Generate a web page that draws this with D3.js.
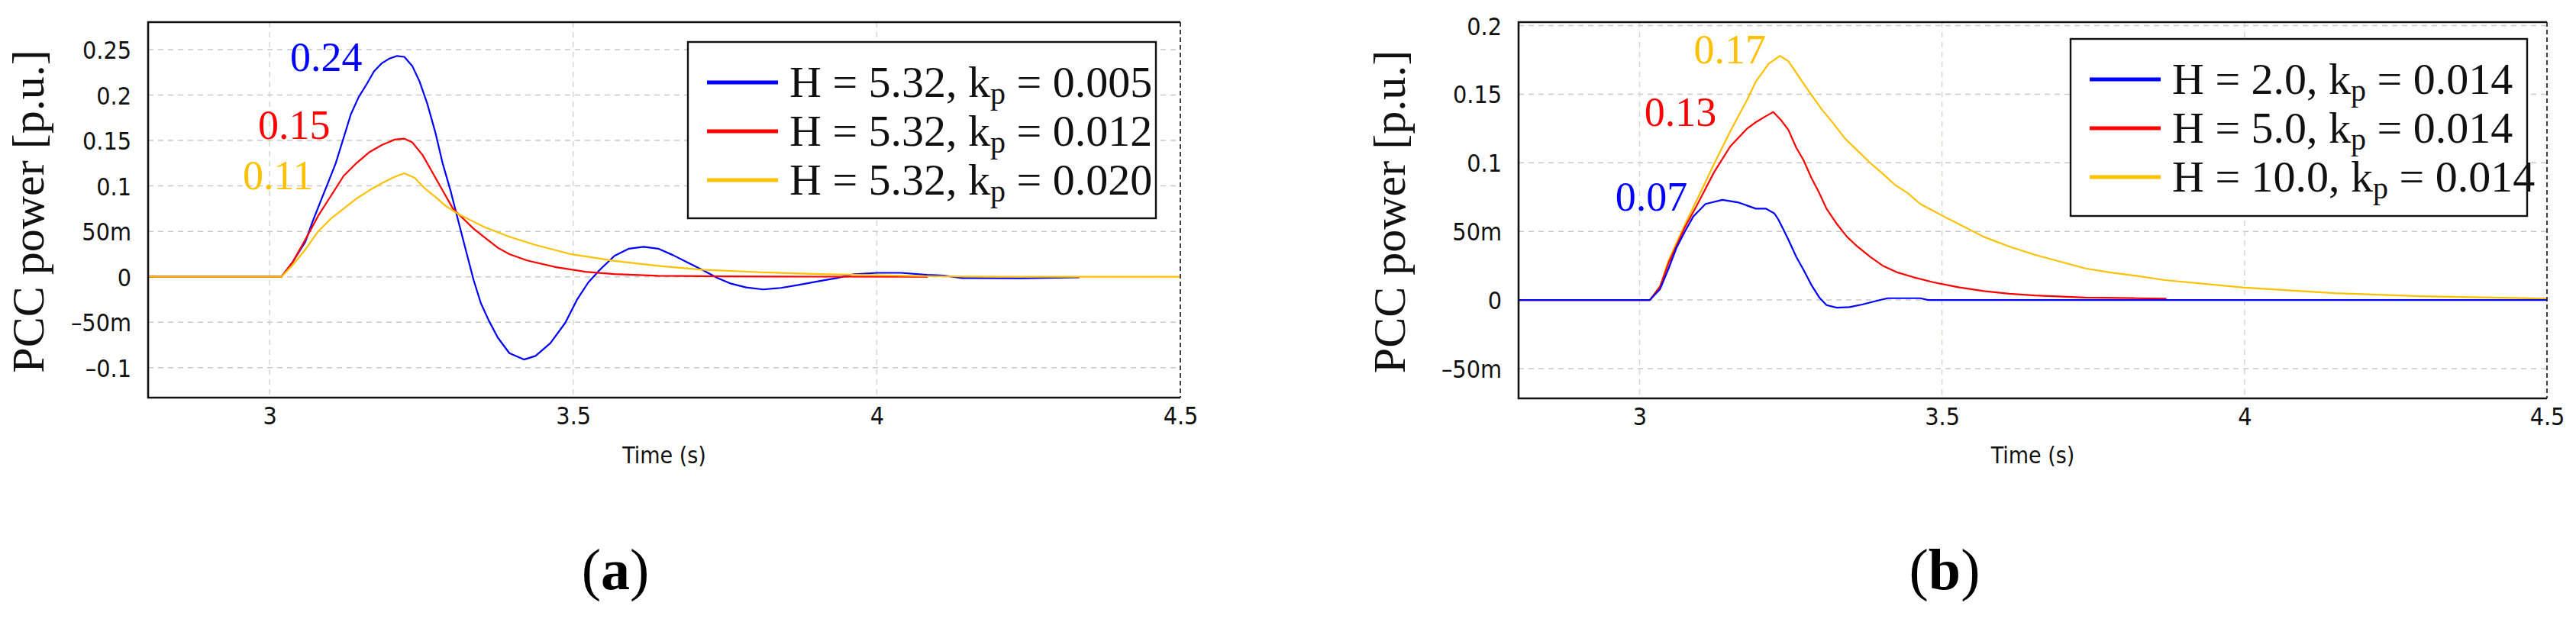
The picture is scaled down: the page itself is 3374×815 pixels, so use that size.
<!DOCTYPE html>
<html>
<head>
<meta charset="utf-8">
<script src="https://cdn.jsdelivr.net/npm/d3@7"></script>
<style>
  body { margin: 0; background: #fff; }
  .tick-lab { font-family: "DejaVu Sans Condensed", "DejaVu Sans"; font-stretch: condensed; font-size: 32px; fill: #111; }
  .serif { font-family: "Liberation Serif", "Times New Roman", serif; }
</style>
</head>
<body>
<div id="chart"></div>
<script>
// ---- panel (a): H = 5.32, varying kp ----
var timeA_k005 = [2.8, 3.0195, 3.038, 3.059, 3.071, 3.084, 3.096, 3.109, 3.122, 3.134, 3.147, 3.16, 3.172, 3.185, 3.197, 3.21, 3.222, 3.235, 3.247, 3.26, 3.273, 3.285, 3.298, 3.311, 3.323, 3.336, 3.348, 3.361, 3.376, 3.395, 3.419, 3.438, 3.4625, 3.487, 3.506, 3.525, 3.544, 3.568, 3.592, 3.616, 3.64, 3.664, 3.688, 3.7125, 3.737, 3.76, 3.785, 3.813, 3.842, 3.871, 3.905, 3.934, 3.9625, 4.001, 4.04, 4.083, 4.111, 4.141, 4.238, 4.334];
var powerA_k005 = [0, 0, 0.0162, 0.0386, 0.061, 0.083, 0.103, 0.125, 0.153, 0.179, 0.198, 0.212, 0.226, 0.235, 0.240, 0.243, 0.242, 0.232, 0.215, 0.190, 0.159, 0.125, 0.095, 0.061, 0.030, -0.0034, -0.029, -0.048, -0.067, -0.084, -0.091, -0.087, -0.073, -0.0506, -0.0256, -0.0061, 0.0078, 0.023, 0.031, 0.033, 0.031, 0.024, 0.016, 0.0078, -0.0011, -0.0075, -0.0117, -0.0139, -0.0122, -0.0089, -0.0047, -0.0014, 0.0028, 0.0044, 0.0044, 0.0022, 0.0014, -0.0014, -0.0016, -0.0006];

var timeA_k012 = [2.8, 3.0195, 3.038, 3.059, 3.08, 3.101, 3.122, 3.143, 3.164, 3.185, 3.206, 3.222, 3.235, 3.252, 3.269, 3.285, 3.302, 3.319, 3.336, 3.353, 3.376, 3.395, 3.424, 3.472, 3.52, 3.568, 3.64, 3.75, 3.9, 4.084];
var powerA_k012 = [0, 0, 0.016, 0.041, 0.067, 0.089, 0.111, 0.125, 0.137, 0.145, 0.151, 0.152, 0.148, 0.134, 0.114, 0.095, 0.075, 0.064, 0.053, 0.044, 0.032, 0.025, 0.018, 0.0106, 0.0056, 0.003, 0.0012, 0.0005, 0.0002, 0];

var timeA_k020 = [2.8, 3.0195, 3.038, 3.059, 3.08, 3.101, 3.122, 3.143, 3.164, 3.185, 3.206, 3.222, 3.239, 3.256, 3.273, 3.29, 3.311, 3.332, 3.353, 3.395, 3.438, 3.496, 3.568, 3.64, 3.7125, 3.809, 3.905, 4.001, 4.097, 4.2, 4.5];
var powerA_k020 = [0, 0, 0.013, 0.030, 0.050, 0.064, 0.075, 0.086, 0.095, 0.103, 0.110, 0.114, 0.109, 0.097, 0.088, 0.078, 0.069, 0.062, 0.055, 0.044, 0.035, 0.025, 0.0175, 0.012, 0.0078, 0.005, 0.003, 0.0017, 0.0006, 0, 0];

// ---- panel (b): kp = 0.014, varying H ----
var timeB_H2 = [2.8, 3.017, 3.034, 3.048, 3.061, 3.075, 3.089, 3.109, 3.137, 3.164, 3.192, 3.209, 3.223, 3.229, 3.237, 3.246, 3.259, 3.271, 3.284, 3.297, 3.309, 3.326, 3.347, 3.368, 3.389, 3.41, 3.464, 3.477, 4.5];
var powerB_H2 = [0, 0, 0.008, 0.023, 0.038, 0.050, 0.061, 0.070, 0.073, 0.071, 0.0666, 0.0666, 0.063, 0.059, 0.052, 0.044, 0.0315, 0.022, 0.011, 0.0019, -0.0037, -0.0056, -0.0052, -0.0033, -0.0009, 0.0013, 0.0013, 0, 0];

var timeB_H5 = [2.8, 3.017, 3.034, 3.048, 3.075, 3.096, 3.123, 3.15, 3.178, 3.192, 3.209, 3.221, 3.234, 3.246, 3.259, 3.271, 3.284, 3.297, 3.309, 3.326, 3.343, 3.36, 3.381, 3.402, 3.427, 3.452, 3.485, 3.527, 3.569, 3.611, 3.653, 3.737, 3.821, 3.871];
var powerB_H5 = [0, 0, 0.010, 0.027, 0.053, 0.070, 0.093, 0.112, 0.125, 0.1295, 0.134, 0.137, 0.131, 0.124, 0.111, 0.102, 0.089, 0.078, 0.0666, 0.0555, 0.046, 0.039, 0.0315, 0.025, 0.020, 0.0167, 0.013, 0.0093, 0.0065, 0.0046, 0.0033, 0.0018, 0.0013, 0.001];

var timeB_H10 = [2.8, 3.017, 3.034, 3.048, 3.075, 3.096, 3.123, 3.15, 3.178, 3.192, 3.213, 3.232, 3.246, 3.263, 3.28, 3.301, 3.318, 3.339, 3.36, 3.381, 3.402, 3.422, 3.443, 3.464, 3.498, 3.527, 3.569, 3.611, 3.653, 3.695, 3.737, 3.779, 3.821, 3.868, 4.0, 4.149, 4.29, 4.5];
var powerB_H10 = [0, 0, 0.010, 0.029, 0.055, 0.074, 0.099, 0.123, 0.146, 0.159, 0.172, 0.178, 0.174, 0.163, 0.152, 0.139, 0.130, 0.118, 0.109, 0.100, 0.092, 0.084, 0.078, 0.070, 0.062, 0.0555, 0.046, 0.039, 0.033, 0.028, 0.023, 0.020, 0.0176, 0.0145, 0.009, 0.005, 0.0028, 0.001];

// tick values
var xTicks = [3, 3.5, 4, 4.5];
var yTicksA = [0.25, 0.2, 0.15, 0.1, 0.05, 0, -0.05, -0.1];
var yTicksB = [0.2, 0.15, 0.1, 0.05, 0, -0.05];

// legend texts and peak annotations
var legendA = [["H = 5.32, k", "p", " = 0.005"], ["H = 5.32, k", "p", " = 0.012"], ["H = 5.32, k", "p", " = 0.020"]];
var legendB = [["H = 2.0, k", "p", " = 0.014"], ["H = 5.0, k", "p", " = 0.014"], ["H = 10.0, k", "p", " = 0.014"]];
var peakLabelsA = [{text: "0.24", t: 3.034, v: 0.2267}, {text: "0.15", t: 2.981, v: 0.152}, {text: "0.11", t: 2.956, v: 0.0963}];
var peakLabelsB = [{text: "0.07", t: 2.96, v: 0.0651}, {text: "0.13", t: 3.0078, v: 0.1268}, {text: "0.17", t: 3.0897, v: 0.1724}];

var colors = ["#0000ff", "#ff0000", "#ffc000"];

var svg = d3.select("#chart").append("svg")
  .attr("width", 3374)
  .attr("height", 815)
  .style("display", "block");

function fmtY(d) {
  if (d === 0) return "0";
  if (Math.abs(d) < 0.1) return (d < 0 ? "\u2013" : "") + Math.round(Math.abs(d) * 1000) + "m";
  return (d < 0 ? "\u2013" : "") + String(Math.abs(d));
}

function zip(ts, vs) { return ts.map(function(t, i) { return {t: t, v: vs[i]}; }); }

function drawPanel(opt) {
  var g = svg.append("g");
  var x = d3.scaleLinear().domain([2.8, 4.5]).range([opt.left, opt.right]);
  var y = d3.scaleLinear().domain(opt.yDomain).range([opt.bottom, opt.top]);

  // grid
  g.selectAll(".hgrid").data(opt.yTicks).enter().append("line")
    .attr("x1", opt.left).attr("x2", opt.right)
    .attr("y1", function(d) { return y(d); }).attr("y2", function(d) { return y(d); })
    .attr("stroke", "#c9c9c9").attr("stroke-width", 1.5).attr("stroke-dasharray", "7,6");
  g.selectAll(".vgrid").data(xTicks.slice(0, 3)).enter().append("line")
    .attr("x1", function(d) { return x(d); }).attr("x2", function(d) { return x(d); })
    .attr("y1", opt.top).attr("y2", opt.bottom)
    .attr("stroke", "#cfdccb").attr("stroke-width", 1.5).attr("stroke-dasharray", "7,6");

  // y axis labels
  var ya = d3.axisLeft(y).tickValues(opt.yTicks).tickSize(0).tickPadding(22).tickFormat(fmtY);
  var yg = g.append("g").attr("transform", "translate(" + opt.left + ",0)").call(ya);
  yg.select(".domain").remove();
  yg.selectAll("text").attr("class", "tick-lab").attr("fill", null).attr("dy", "0.36em");

  // x axis labels
  var xa = d3.axisBottom(x).tickValues(xTicks).tickSize(0).tickPadding(12).tickFormat(d3.format("~g"));
  var xg = g.append("g").attr("transform", "translate(0," + opt.bottom + ")").call(xa);
  xg.select(".domain").remove();
  xg.selectAll("text").attr("class", "tick-lab").attr("fill", null);

  // series
  var line = d3.line().x(function(d) { return x(d.t); }).y(function(d) { return y(d.v); });
  opt.series.forEach(function(s) {
    g.append("path").datum(zip(s.t, s.v))
      .attr("fill", "none").attr("stroke", s.color).attr("stroke-width", 2.2)
      .attr("stroke-linejoin", "round").attr("d", line);
  });

  // frame: solid left/top/bottom, dashed right
  g.append("path")
    .attr("d", "M" + opt.right + "," + opt.top + "H" + opt.left + "V" + opt.bottom + "H" + opt.right)
    .attr("fill", "none").attr("stroke", "#111").attr("stroke-width", 2.6);
  g.append("line")
    .attr("x1", opt.right).attr("x2", opt.right).attr("y1", opt.top).attr("y2", opt.bottom)
    .attr("stroke", "#111").attr("stroke-width", 1.6).attr("stroke-dasharray", "6,4");

  // peak annotations
  g.selectAll(".peak").data(opt.peaks).enter().append("text")
    .attr("class", "serif")
    .attr("x", function(d) { return x(d.t); })
    .attr("y", function(d) { return y(d.v); })
    .attr("font-size", 54)
    .attr("fill", function(d, i) { return opt.peakColors[i]; })
    .text(function(d) { return d.text; });

  // legend
  var lg = g.append("g");
  lg.append("rect")
    .attr("x", opt.legend.x).attr("y", opt.legend.y)
    .attr("width", opt.legend.w).attr("height", opt.legend.h)
    .attr("fill", "#fff").attr("stroke", "#111").attr("stroke-width", 2.4);
  opt.legendText.forEach(function(parts, i) {
    var cy = opt.legend.y + 53 + i * 64;
    lg.append("line")
      .attr("x1", opt.legend.x + 25).attr("x2", opt.legend.x + 118)
      .attr("y1", cy).attr("y2", cy)
      .attr("stroke", colors[i]).attr("stroke-width", 5);
    var t = lg.append("text").attr("class", "serif")
      .attr("x", opt.legend.x + 133).attr("y", cy + 19)
      .attr("font-size", 58).attr("fill", "#111");
    t.append("tspan").text(parts[0]);
    t.append("tspan").attr("font-size", 40).attr("dy", 9).text(parts[1]);
    t.append("tspan").attr("dy", -9).text(parts[2]);
  });

  // axis titles
  g.append("text").attr("class", "serif")
    .attr("transform", "translate(" + opt.yTitleX + "," + ((opt.top + opt.bottom) / 2 + 2) + ") rotate(-90)")
    .attr("text-anchor", "middle").attr("font-size", 60).attr("fill", "#111")
    .text("PCC power [p.u.]");
  g.append("text").attr("class", "tick-lab")
    .attr("x", (opt.left + opt.right) / 2).attr("y", 607)
    .attr("text-anchor", "middle").style("font-size", "30px")
    .text("Time (s)");

  // panel letter
  var pl = g.append("text").attr("class", "serif")
    .attr("x", opt.letterX).attr("y", 772)
    .attr("text-anchor", "middle").attr("font-size", 76).attr("fill", "#000");
  pl.append("tspan").text("(");
  pl.append("tspan").attr("font-weight", "bold").text(opt.letter);
  pl.append("tspan").text(")");
}

drawPanel({
  left: 194, right: 1546, top: 29, bottom: 521,
  yDomain: [-0.1329, 0.2802], yTicks: yTicksA,
  series: [
    {t: timeA_k005, v: powerA_k005, color: colors[0]},
    {t: timeA_k012, v: powerA_k012, color: colors[1]},
    {t: timeA_k020, v: powerA_k020, color: colors[2]}
  ],
  peaks: peakLabelsA, peakColors: [colors[0], colors[1], colors[2]],
  legend: {x: 901, y: 55, w: 613, h: 231}, legendText: legendA,
  yTitleX: 57, letter: "a", letterX: 806
});

drawPanel({
  left: 1989, right: 3336, top: 29, bottom: 522,
  yDomain: [-0.0717, 0.2025], yTicks: yTicksB,
  series: [
    {t: timeB_H10, v: powerB_H10, color: colors[2]},
    {t: timeB_H5, v: powerB_H5, color: colors[1]},
    {t: timeB_H2, v: powerB_H2, color: colors[0]}
  ],
  peaks: peakLabelsB, peakColors: [colors[0], colors[1], colors[2]],
  legend: {x: 2712, y: 51, w: 598, h: 232}, legendText: legendB,
  yTitleX: 1840, letter: "b", letterX: 2547
});
</script>
</body>
</html>
